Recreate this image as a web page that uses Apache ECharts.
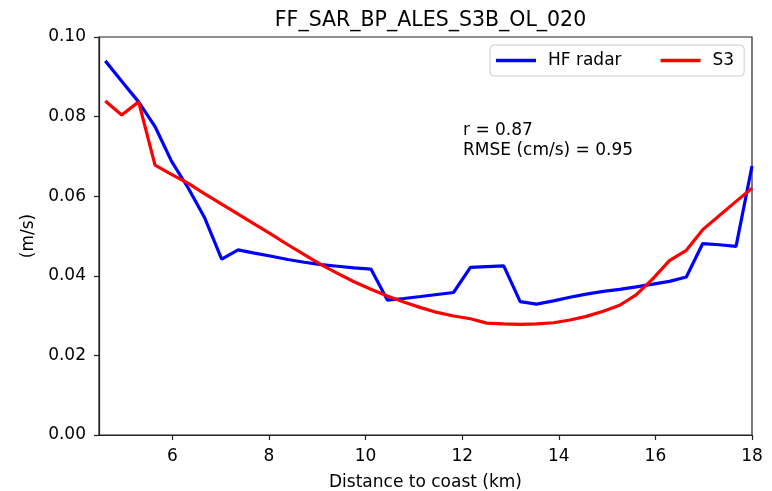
<!DOCTYPE html>
<html>
<head>
<meta charset="utf-8">
<script src="https://cdn.jsdelivr.net/npm/echarts@6/dist/echarts.min.js"></script>
<style>html,body{margin:0;padding:0;background:#fff;}#c{width:772px;height:491px;}</style>
</head>
<body>
<div id="c"></div>
<script>
const distances = [4.61,4.95,5.30,5.64,5.98,6.33,6.67,7.02,7.36,7.70,8.05,8.39,8.73,9.08,9.42,9.76,10.11,10.45,10.79,11.14,11.48,11.82,12.17,12.51,12.86,13.20,13.54,13.89,14.23,14.57,14.92,15.26,15.60,15.95,16.29,16.64,16.98,17.32,17.67,18.00];
const hfRadar = [0.0940,0.0889,0.0837,0.0775,0.0688,0.0620,0.0545,0.0442,0.0465,0.0457,0.0449,0.0441,0.0434,0.0428,0.0424,0.0420,0.0417,0.0339,0.0343,0.0348,0.0353,0.0358,0.0421,0.0423,0.0425,0.0335,0.0329,0.0337,0.0346,0.0354,0.0361,0.0366,0.0372,0.0379,0.0386,0.0397,0.0481,0.0478,0.0474,0.0676];
const s3 = [0.0839,0.0804,0.0837,0.0678,0.0655,0.0632,0.0606,0.0580,0.0555,0.0530,0.0504,0.0478,0.0453,0.0428,0.0406,0.0385,0.0366,0.0349,0.0334,0.0320,0.0308,0.0299,0.0292,0.0281,0.0279,0.0278,0.0279,0.0282,0.0289,0.0298,0.0311,0.0326,0.0352,0.0393,0.0438,0.0464,0.0516,0.0551,0.0587,0.0620];
const xTicks = [6,8,10,12,14,16,18];
const seriesNames = ['HF radar','S3'];
const titleText = 'FF_SAR_BP_ALES_S3B_OL_020';
const statsText = 'r = 0.87\nRMSE (cm/s) = 0.95';
const xName = 'Distance to coast (km)';
const yName = '(m/s)';

const FONT = 'DejaVu Sans';
const chart = echarts.init(document.getElementById('c'), null, {renderer:'canvas'});
const pair = (xs, ys) => xs.map((x,i)=>[x, ys[i]]);
chart.setOption({
  animation:false,
  backgroundColor:'#ffffff',
  title:{text:titleText,top:5,left:425.5,textAlign:'center',
    textStyle:{fontFamily:FONT,fontSize:20.5,fontWeight:'normal',color:'#000'}},
  grid:{left:99,right:20,top:37,bottom:56,show:true,borderColor:'#222',borderWidth:1.2,backgroundColor:'transparent',
    outerBoundsMode:'none',containLabel:false},
  legend:{left:490,top:45,orient:'horizontal',icon:'rect',itemWidth:40,itemHeight:3.5,itemGap:39,
    padding:[7,10,7,6],borderColor:'#cccccc',borderWidth:1,borderRadius:4,backgroundColor:'#fff',
    textStyle:{fontFamily:FONT,fontSize:17,color:'#000',padding:[0,0,0,7]},
    data:seriesNames},
  xAxis:{type:'value',min:4.48,max:18,
    name:xName,nameLocation:'middle',nameGap:39,
    nameTextStyle:{fontFamily:FONT,fontSize:17,color:'#000'},
    axisLine:{show:true,lineStyle:{color:'#222',width:1.2}},
    axisTick:{show:true,inside:false,length:5,lineStyle:{color:'#222',width:1.2},customValues:xTicks},
    axisLabel:{fontFamily:FONT,fontSize:17,color:'#000',margin:13,customValues:xTicks,formatter:v=>String(v)},
    splitLine:{show:false}},
  yAxis:{type:'value',min:0,max:0.1,interval:0.02,
    name:yName,nameLocation:'middle',nameGap:57,nameRotate:90,
    nameTextStyle:{fontFamily:FONT,fontSize:17,color:'#000'},
    axisLine:{show:true,lineStyle:{color:'#222',width:1.2}},
    axisTick:{show:true,inside:false,length:5,lineStyle:{color:'#222',width:1.2}},
    axisLabel:{fontFamily:FONT,fontSize:17,color:'#000',margin:13,formatter:v=>v.toFixed(2)},
    splitLine:{show:false}},
  graphic:[{type:'text',left:463,top:121,style:{text:statsText,fontFamily:FONT,fontSize:17,lineHeight:20,fill:'#000'}}],
  series:[
    {name:seriesNames[0],type:'line',data:pair(distances,hfRadar),showSymbol:false,symbol:'none',
      lineStyle:{color:'#0000ff',width:3.2},itemStyle:{color:'#0000ff'},clip:true,z:2},
    {name:seriesNames[1],type:'line',data:pair(distances,s3),showSymbol:false,symbol:'none',
      lineStyle:{color:'#ff0000',width:3.2},itemStyle:{color:'#ff0000'},clip:true,z:3}
  ]
});
</script>
</body>
</html>
